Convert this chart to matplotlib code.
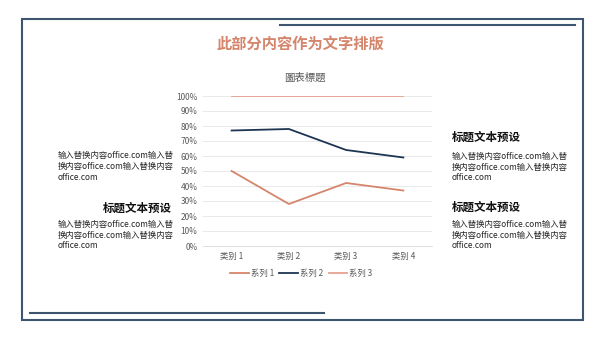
import matplotlib
matplotlib.use('Agg')
import matplotlib.pyplot as plt
from matplotlib.patches import Rectangle
from matplotlib.lines import Line2D
from matplotlib.ticker import PercentFormatter

plt.rcParams['font.family'] = ['Noto Sans CJK SC', 'DejaVu Sans']

categories = ['类别 1', '类别 2', '类别 3', '类别 4']
series_names = ['系列 1', '系列 2', '系列 3']
series_1 = [0.50, 0.28, 0.42, 0.37]
series_2 = [0.77, 0.78, 0.64, 0.59]
series_3 = [1.00, 1.00, 1.00, 1.00]
y_ticks = [0, 0.1, 0.2, 0.3, 0.4, 0.5, 0.6, 0.7, 0.8, 0.9, 1.0]

main_title = '此部分内容作为文字排版'
chart_title = '圖表標題'
heading = '标题文本预设'
body_lines = ['输入替换内容office.com输入替', '换内容office.com输入替换内容', 'office.com']

W, H = 600, 338
ORANGE = '#D4856C'
ORANGE_LIGHT = '#E6A191'
NAVY = '#1E3552'
FRAME = '#3E5570'


def fx(x):
    return x / W


def fy(y):
    return 1 - y / H


fig = plt.figure(figsize=(6, 3.38), dpi=100)

# frame and decorative lines
fig.patches.append(Rectangle((fx(22), fy(320)), fx(561), (320 - 19) / H, transform=fig.transFigure,
                             fill=False, edgecolor=FRAME, linewidth=1.5))
fig.lines.append(Line2D([fx(280), fx(575)], [fy(25), fy(25)], transform=fig.transFigure,
                        color=FRAME, linewidth=1.5))
fig.lines.append(Line2D([fx(30), fx(324)], [fy(313), fy(313)], transform=fig.transFigure,
                        color=FRAME, linewidth=1.5))

# titles
fig.text(fx(300), fy(44), main_title, ha='center', va='center', color=ORANGE,
         fontsize=11, fontweight='bold')
fig.text(fx(305), fy(78), chart_title, ha='center', va='center', color='#595959', fontsize=7.5)

# chart
ax = fig.add_axes([fx(203), fy(246), fx(432 - 203), (246 - 96) / H])
x = range(len(categories))
ax.plot(x, series_1, color=ORANGE, linewidth=1.3, label=series_names[0])
ax.plot(x, series_2, color=NAVY, linewidth=1.3, label=series_names[1])
ax.plot(x, series_3, color=ORANGE_LIGHT, linewidth=1.3, label=series_names[2])
ax.set_xlim(-0.5, len(categories) - 0.5)
ax.set_ylim(0, 1)
ax.set_yticks(y_ticks)
ax.yaxis.set_major_formatter(PercentFormatter(1.0, decimals=0))
ax.set_xticks(list(x))
ax.set_xticklabels(categories)
ax.tick_params(length=0, labelsize=6, colors='#595959', pad=4)
ax.grid(axis='y', color='#E6E6E6', linewidth=0.6)
for s in ['top', 'right', 'left']:
    ax.spines[s].set_visible(False)
ax.spines['bottom'].set_color('#D9D9D9')
ax.spines['bottom'].set_linewidth(0.6)
ax.legend(loc='upper center', bbox_to_anchor=(0.43, -0.10), ncol=3, frameon=False,
          fontsize=6, handlelength=2.2, columnspacing=0.6, handletextpad=0.3,
          labelcolor='#595959')

# text blocks
def body(x0, y0):
    for i, line in enumerate(body_lines):
        fig.text(fx(x0), fy(y0 + i * 11), line, ha='left', va='center', fontsize=6, color='#262626')


body(58, 155)
fig.text(fx(172), fy(208), heading, ha='right', va='center', fontsize=8.3, fontweight='bold', color='#111111')
body(58, 224)

fig.text(fx(452), fy(137), heading, ha='left', va='center', fontsize=8.3, fontweight='bold', color='#111111')
body(452, 156)
fig.text(fx(452), fy(207), heading, ha='left', va='center', fontsize=8.3, fontweight='bold', color='#111111')
body(452, 224)

fig.savefig('out.png', dpi=100, facecolor='white')
